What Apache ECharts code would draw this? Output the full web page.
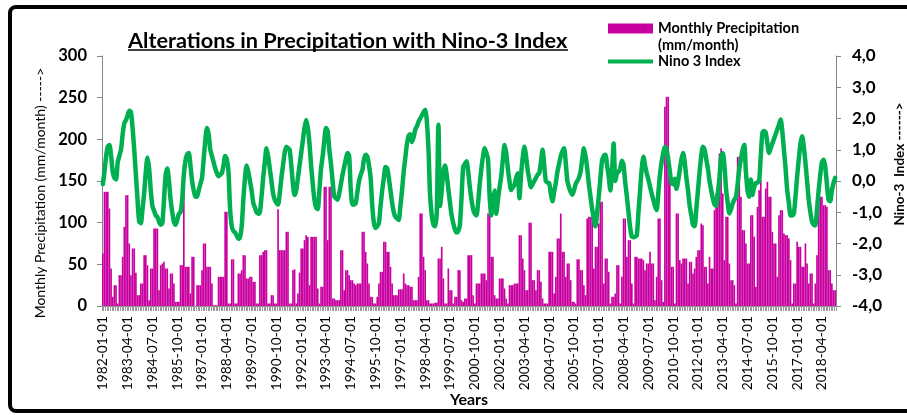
<!DOCTYPE html>
<html>
<head>
<meta charset="utf-8">
<script src="https://cdn.jsdelivr.net/npm/echarts@6/dist/echarts.min.js"></script>
<style>
html,body{margin:0;padding:0;background:#fff;}
#c{width:907px;height:415px;}
</style>
</head>
<body>
<div id="c"></div>
<script>
// ---- DATA ----
const startYear = 1982;
const monthCount = 444; // 1982-01 .. 2018-12
const categories = [];
for (let k = 0; k < monthCount; k++) {
  const y = startYear + Math.floor(k / 12);
  const m = (k % 12) + 1;
  categories.push(y + '-' + String(m).padStart(2, '0') + '-01');
}

// Monthly precipitation (mm/month), one row per year
const precipitation = [
  63,137,137,137,117,45,11,25,25,3,37,37,        // 1982
  59,95,133,133,75,37,69,69,40,13,13,27,         // 1983
  27,61,61,49,7,45,45,93,93,93,19,49,            // 1984
  51,53,45,45,21,39,39,27,5,5,5,49,              // 1985
  49,159,47,47,47,15,59,59,0,25,25,25,           // 1986
  43,75,75,47,47,47,27,1,1,1,35,35,              // 1987
  35,35,113,113,3,3,56,56,3,3,39,39,             // 1988
  43,61,61,33,33,35,35,29,29,3,3,61,             // 1989
  61,65,67,67,3,3,13,13,3,3,116,67,              // 1990
  67,67,67,89,89,3,3,43,44,3,15,40,              // 1991
  69,69,79,85,83,25,83,83,83,83,21,3,            // 1992
  23,23,143,143,79,143,143,9,9,7,7,7,            // 1993
  67,67,19,43,43,37,31,31,27,25,27,27,           // 1994
  27,89,89,65,51,27,11,11,3,3,11,27,             // 1995
  41,41,77,77,65,65,47,27,13,13,13,20,           // 1996
  20,20,39,27,25,25,23,23,7,7,7,35,              // 1997
  111,111,59,43,7,7,3,3,3,4,4,57,                // 1998
  57,71,33,3,3,45,19,19,3,11,11,43,              // 1999
  43,7,5,9,9,61,61,61,13,3,27,27,                // 2000
  27,39,39,39,31,111,111,59,59,13,9,9,           // 2001
  33,33,33,21,9,3,25,25,25,27,27,27,             // 2002
  85,85,57,43,19,19,100,100,31,31,19,43,         // 2003
  43,29,9,3,3,3,65,65,65,15,35,81,               // 2004
  81,111,65,65,35,51,51,31,5,5,3,56,             // 2005
  56,43,43,25,13,105,107,107,107,45,71,71,       // 2006
  99,125,125,27,57,57,41,3,11,11,15,49,          // 2007
  49,3,35,105,105,59,79,79,27,3,59,59,           // 2008
  57,57,57,55,43,51,51,65,51,51,7,35,            // 2009
  105,105,31,5,239,251,251,155,47,47,3,111,      // 2010
  111,55,51,57,57,57,27,53,53,39,45,59,          // 2011
  67,67,99,97,47,47,27,59,45,45,115,135,         // 2012
  135,183,189,135,55,107,107,51,31,31,25,3,      // 2013
  179,179,131,91,91,75,51,51,109,109,83,23,      // 2014
  119,139,151,107,107,141,149,131,131,89,75,75,  // 2015
  35,109,115,115,87,85,85,81,55,3,27,27,         // 2016
  77,71,71,47,47,75,51,27,39,39,3,27,            // 2017
  61,131,131,131,121,121,119,43,43,27,19,19      // 2018
];

// Nino-3 index, one row per year
const nino3 = [
  -0.1,0.3,0.8,1.1,1.15,0.8,0.3,0.1,0.05,0.6,0.8,1.0,              // 1982
  1.5,1.85,1.95,2.1,2.25,2.2,1.7,1.0,0.2,-0.6,-1.3,-1.35,          // 1983
  -0.9,-0.4,0.3,0.75,0.4,-0.3,-0.8,-0.95,-1.1,-1.15,-1.3,-1.4,     // 1984
  -1.35,-0.6,0.2,0.4,0.0,-0.6,-1.0,-1.3,-1.4,-1.25,-1.05,-1.0,     // 1985
  -0.6,0.2,0.65,0.85,0.9,0.5,0.0,-0.3,-0.5,-0.5,-0.3,-0.1,         // 1986
  0.1,0.7,1.3,1.7,1.5,1.0,0.8,0.6,0.4,0.25,0.15,0.2,               // 1987
  0.25,0.5,0.8,0.7,0.3,-0.9,-1.45,-1.6,-1.65,-1.75,-1.85,-1.8,     // 1988
  -1.45,-0.6,0.1,0.5,0.3,0.0,-0.3,-0.7,-0.85,-1.0,-1.05,-1.0,      // 1989
  -0.5,0.1,0.6,1.05,0.8,0.4,0.0,-0.4,-0.6,-0.7,-0.75,-0.4,         // 1990
  0.1,0.5,0.9,1.1,1.05,1.0,0.5,-0.1,-0.45,-0.3,0.1,0.5,            // 1991
  0.9,1.3,1.7,1.95,1.7,1.2,0.5,-0.1,-0.6,-0.85,-0.9,-0.3,          // 1992
  0.4,0.8,1.3,1.7,1.6,1.0,0.55,0.0,-0.5,-0.55,-0.6,-0.4,           // 1993
  -0.1,0.2,0.45,0.7,0.9,0.8,-0.3,-0.75,-0.75,-0.7,-0.35,0.0,       // 1994
  0.2,0.35,0.7,0.84,0.78,0.5,0.1,-0.8,-1.35,-1.5,-1.45,-1.35,      // 1995
  -0.8,-0.3,0.1,0.45,0.4,0.1,-0.3,-0.7,-1.0,-1.15,-1.2,-1.25,      // 1996
  -0.8,-0.3,0.3,0.75,1.2,1.45,1.5,1.25,1.4,1.65,1.75,1.9,          // 1997
  2.0,2.1,2.2,2.28,1.9,1.0,-0.5,-1.1,-1.4,-1.45,-1.0,1.8,          // 1998
  -0.8,-0.3,0.3,0.5,0.2,-0.25,-0.7,-1.1,-1.35,-1.55,-1.65,-1.6,    // 1999
  -1.4,-0.5,0.45,0.55,0.63,0.3,-0.2,-0.6,-0.9,-1.05,-1.1,-0.7,     // 2000
  -0.1,0.4,0.8,1.05,0.9,0.7,-0.5,-1.1,-0.6,-0.3,-1.05,-0.6,        // 2001
  -0.2,0.15,0.7,1.15,0.9,0.4,0.0,-0.29,-0.2,-0.13,0.1,0.25,        // 2002
  -0.55,0.2,0.75,1.1,0.8,0.35,0.05,-0.2,-0.1,0.0,0.1,0.2,          // 2003
  0.25,0.6,1.0,0.5,0.0,-0.05,-0.07,-0.4,-0.65,-0.35,-0.07,0.3,     // 2004
  0.55,0.8,0.95,1.05,0.6,0.0,-0.2,-0.35,-0.44,-0.3,-0.1,0.0,       // 2005
  0.1,0.3,0.7,1.05,0.8,0.4,-0.1,-0.5,-0.9,-1.2,-1.45,-1.0,         // 2006
  -0.5,0.1,0.65,0.8,0.84,0.5,0.15,-0.3,0.3,1.2,0.0,0.25,           // 2007
  0.3,0.4,0.65,0.5,-0.05,-0.5,-1.0,-1.5,-1.78,-1.8,-1.78,-1.74,    // 2008
  -1.0,-0.3,0.4,0.78,0.5,0.25,0.05,-0.18,-0.4,-0.6,-0.8,-0.93,     // 2009
  -0.4,0.2,0.6,0.9,1.1,1.0,0.7,0.3,-0.07,-0.1,0.07,-0.25,          // 2010
  0.0,0.35,0.7,0.9,0.6,0.1,-0.3,-0.8,-1.1,-1.4,-1.45,-0.9,         // 2011
  -0.3,0.3,0.8,1.1,1.0,0.7,0.4,0.0,-0.3,-0.55,-0.75,-0.8,          // 2012
  -0.4,0.1,0.75,0.9,0.5,-0.25,-0.7,-1.04,-0.9,-0.72,-0.6,-0.5,     // 2013
  -0.1,0.4,0.7,1.0,1.16,0.3,-0.3,-0.5,0.05,-0.45,-0.2,-0.07,       // 2014
  -0.05,0.0,0.8,1.55,1.6,1.55,1.2,0.9,1.05,1.2,1.35,1.5,           // 2015
  1.65,1.8,1.97,1.6,1.0,0.4,-0.3,-0.7,-1.1,-1.1,-1.04,-0.5,        // 2016
  0.15,0.7,1.2,1.43,1.1,0.6,0.0,-0.6,-1.0,-1.3,-1.4,-1.42,         // 2017
  -0.9,-0.3,0.2,0.6,0.68,0.46,-0.1,-0.6,-0.65,-0.3,-0.07,0.1       // 2018
];

const precipName = 'Monthly Precipitation';
const precipUnit = '(mm/month)';
const ninoName = 'Nino 3 Index';
const titleText = 'Alterations in Precipitation with Nino-3 Index';

// ---- CHART ----
const chart = echarts.init(document.getElementById('c'), null, { renderer: 'canvas' });
const axisGrey = '#868686';
const font = 'Lato';
const legendText = { fontFamily: font, fontWeight: 'bold', fontSize: 14.5, color: '#000' };

chart.setOption({
  backgroundColor: '#ffffff',
  animation: false,
  title: {
    text: titleText,
    left: 128, top: 30, padding: 0,
    textStyle: { fontFamily: font, fontWeight: 'bold', fontSize: 21.7, color: '#000' }
  },
  legend: [
    {
      data: [{ name: precipName, icon: 'rect' }],
      left: 608, top: 21, padding: 0,
      itemWidth: 45, itemHeight: 10,
      textStyle: legendText
    },
    {
      data: [{ name: ninoName, icon: 'rect' }],
      left: 608, top: 54, padding: 0,
      itemWidth: 45, itemHeight: 4,
      textStyle: legendText
    }
  ],
  grid: { left: 102, right: 71, top: 56, bottom: 109, containLabel: false, outerBoundsMode: 'none' },
  xAxis: {
    type: 'category',
    data: categories,
    boundaryGap: true,
    name: 'Years',
    nameLocation: 'middle',
    nameGap: 86,
    nameMoveOverlap: false,
    nameTextStyle: { fontFamily: font, fontWeight: 'bold', fontSize: 16, color: '#000' },
    axisLine: { lineStyle: { color: axisGrey, width: 1 } },
    axisTick: { show: true, interval: 0, length: 5, lineStyle: { color: '#9a9a9a' } },
    axisLabel: { interval: 14, rotate: 90, margin: 10, fontFamily: font, fontSize: 13.8, color: '#000' },
    splitLine: { show: false }
  },
  yAxis: [
    {
      type: 'value', min: 0, max: 300, interval: 50,
      name: 'Monthly Precipitation (mm/month) ----->',
      nameLocation: 'middle', nameGap: 53, nameRotate: 90,
      nameTextStyle: { fontFamily: font, fontSize: 14, color: '#000', padding: [0, 24, 0, 0] },
      axisLine: { show: true, lineStyle: { color: axisGrey } },
      axisTick: { show: true, length: 5, lineStyle: { color: axisGrey } },
      axisLabel: { margin: 15, fontFamily: font, fontWeight: 'bold', fontSize: 16.5, color: '#000' },
      splitLine: { show: false }
    },
    {
      type: 'value', min: -4, max: 4, interval: 1, position: 'right',
      name: 'Nino-3  Index ------>',
      nameLocation: 'middle', nameGap: 54, nameRotate: 90,
      nameTextStyle: { fontFamily: font, fontWeight: 'bold', fontSize: 13.5, color: '#000', padding: [0, 0, 0, 34] },
      axisLine: { show: true, lineStyle: { color: axisGrey } },
      axisTick: { show: true, length: 5, lineStyle: { color: axisGrey } },
      axisLabel: {
        margin: 16, fontFamily: font, fontWeight: 'bold', fontSize: 17, color: '#000',
        formatter: v => v.toFixed(1).replace('.', ',')
      },
      splitLine: { show: false }
    }
  ],
  series: [
    {
      name: precipName, type: 'bar', yAxisIndex: 0,
      data: precipitation,
      barCategoryGap: '0%',
      itemStyle: { color: '#C800A0' },
      z: 2
    },
    {
      name: ninoName, type: 'line', yAxisIndex: 1,
      data: nino3,
      symbol: 'none', smooth: 0.25,
      lineStyle: { color: '#00B050', width: 4.5, join: 'round', cap: 'round' },
      itemStyle: { color: '#00B050' },
      z: 3
    }
  ],
  graphic: [
    { type: 'text', left: 658, top: 38, style: { text: precipUnit, font: 'bold 14.5px Lato', fill: '#000' }, z: 100 },
    { type: 'line', shape: { x1: 128, y1: 50, x2: 568, y2: 50 }, style: { stroke: '#000', lineWidth: 1.5 }, z: 100 },
    { type: 'rect', shape: { x: 10, y: 7, width: 905, height: 404, r: 6 }, style: { fill: 'transparent', stroke: '#000', lineWidth: 4 }, z: 100 }
  ]
});
</script>
</body>
</html>
